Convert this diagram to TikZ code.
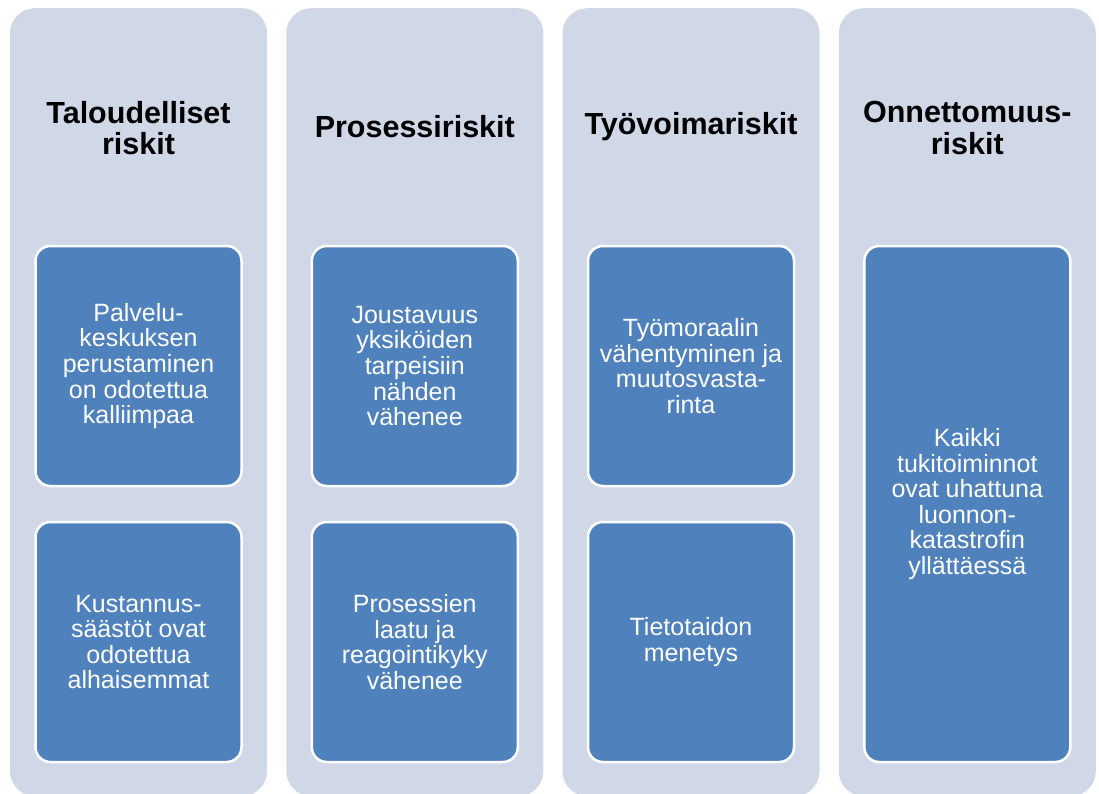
\documentclass[tikz,border=0pt]{standalone}
\usepackage{fontspec}
\setmainfont{Liberation Sans}
\definecolor{colbg}{HTML}{D0D8E8}
\definecolor{boxbg}{HTML}{4F81BD}
\tikzset{
  column/.style={rectangle, fill=colbg, rounded corners=25pt, minimum width=257pt, minimum height=788pt, anchor=north, inner sep=0pt},
  title/.style={align=center, font=\bfseries\fontsize{30.5}{31.5}\selectfont, text=black},
  riskbox/.style={rectangle, fill=boxbg, draw=white, line width=2.5pt, rounded corners=15pt, minimum width=206pt, align=center, text=white, font=\fontsize{25}{25.6}\selectfont, inner sep=0pt},
  half/.style={riskbox, minimum height=240pt},
  full/.style={riskbox, minimum height=516pt}
}
\begin{document}
\begin{tikzpicture}[x=1pt,y=-1pt]
\useasboundingbox (0,0) rectangle (1099,794);
\clip (0,0) rectangle (1099,794);
\node[column] (c1) at (138.5,8) {};
\node[column] (c2) at (414.8,8) {};
\node[column] (c3) at (691,8) {};
\node[column] (c4) at (967.3,8) {};
\node[title] (t1) at (138.5,128) {Taloudelliset\\riskit};
\node[title] (t2) at (414.8,127) {Prosessiriskit};
\node[title] (t3) at (691,127) {Työvoimariskit};
\node[title] (t4) at (967.3,128) {Onnettomuus-\\riskit};
\node[half] (b11) at (138.5,366) {Palvelu-\\keskuksen\\perustaminen\\on odotettua\\kalliimpaa};
\node[half] (b12) at (138.5,642) {Kustannus-\\säästöt ovat\\odotettua\\alhaisemmat};
\node[half] (b21) at (414.8,366) {Joustavuus\\yksiköiden\\tarpeisiin\\nähden\\vähenee};
\node[half] (b22) at (414.8,642) {Prosessien\\laatu ja\\reagointikyky\\vähenee};
\node[half] (b31) at (691,366) {Työmoraalin\\vähentyminen ja\\muutosvasta-\\rinta};
\node[half] (b32) at (691,642) {Tietotaidon\\menetys};
\node[full] (b41) at (967.3,504) {Kaikki\\tukitoiminnot\\ovat uhattuna\\luonnon-\\katastrofin\\yllättäessä};
\end{tikzpicture}
\end{document}
